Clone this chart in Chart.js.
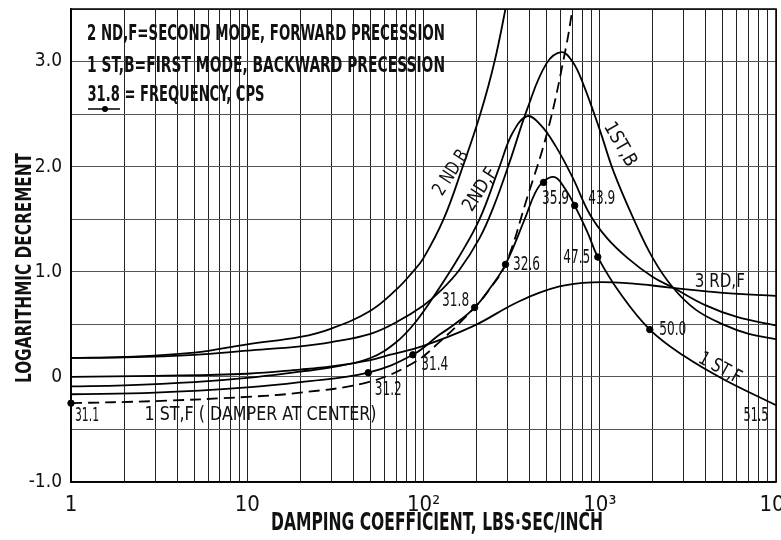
<!DOCTYPE html>
<html>
<head>
<meta charset="utf-8">
<script src="https://cdn.jsdelivr.net/npm/chart.js@4.4.1/dist/chart.umd.min.js"></script>
<style>
  html, body { margin: 0; background: #fff; }
  #wrap { width: 781px; height: 540px; }
</style>
</head>
<body>
<div id="wrap"><canvas id="chart"></canvas></div>
<script>
// damping coefficient (lbs-sec/inch) vs logarithmic decrement
const x2ndB = [1, 2, 5, 10, 20, 30, 50, 70, 87, 100, 130, 167, 210, 253, 300];
const y2ndB = [0.18, 0.19, 0.23, 0.31, 0.38, 0.46, 0.63, 0.83, 1.0, 1.13, 1.5, 2.0, 2.5, 3.0, 3.6];

const x1stB = [1, 2, 5, 10, 20, 30, 50, 70, 100, 125, 160, 208, 250, 309, 388, 498, 608, 700, 800, 1000, 1200, 1540, 2000, 2600, 3500, 5000, 7000, 10000];
const y1stB = [0.18, 0.185, 0.21, 0.25, 0.29, 0.33, 0.41, 0.52, 0.68, 0.82, 1.02, 1.32, 1.62, 2.05, 2.55, 2.98, 3.09, 3.0, 2.8, 2.35, 1.95, 1.52, 1.13, 0.85, 0.64, 0.50, 0.41, 0.36];

const x2ndF = [1, 2, 5, 10, 20, 30, 50, 70, 90, 118, 160, 208, 270, 320, 388, 460, 560, 700, 876, 1100, 1440, 2000, 2600, 4000, 6000, 10000];
const y2ndF = [-0.09, -0.08, -0.05, -0.01, 0.05, 0.09, 0.18, 0.33, 0.52, 0.80, 1.15, 1.50, 2.0, 2.32, 2.48, 2.40, 2.2, 1.90, 1.55, 1.32, 1.13, 0.95, 0.85, 0.68, 0.57, 0.49];

const x3rdF = [1, 3, 10, 20, 30, 50, 64, 98, 190, 350, 590, 915, 1500, 2500, 5000, 10000];
const y3rdF = [0.0, 0.01, 0.03, 0.07, 0.10, 0.16, 0.21, 0.29, 0.48, 0.72, 0.86, 0.90, 0.89, 0.85, 0.80, 0.77];

const x1stF = [1, 3, 10, 20, 48.6, 87, 123, 150, 195, 240, 292, 375, 430, 480, 555, 630, 721, 850, 975, 1300, 1923, 3000, 5000, 10000];
const y1stF = [-0.165, -0.15, -0.10, -0.05, 0.04, 0.21, 0.40, 0.50, 0.66, 0.85, 1.07, 1.50, 1.75, 1.86, 1.90, 1.80, 1.63, 1.38, 1.14, 0.80, 0.45, 0.20, -0.02, -0.27];

const xDamperCenter = [1, 3, 10, 20, 48.6, 87, 123, 195, 236, 292, 385, 508, 639, 710];
const yDamperCenter = [-0.25, -0.23, -0.19, -0.15, -0.05, 0.13, 0.33, 0.66, 0.83, 1.07, 1.69, 2.35, 3.11, 3.56];

// frequency (cps) marks
const freqLabels = ['31.1', '31.2', '31.4', '31.8', '32.6', '35.9', '43.9', '47.5', '50.0'];
const freqX = [1, 48.6, 87, 195, 292, 480, 721, 975, 1923];
const freqY = [-0.25, 0.04, 0.21, 0.66, 1.07, 1.85, 1.63, 1.14, 0.45];

// curve names placed beside the curves
const curveNames = ['2 ND,B', '2ND,F', '1ST,B', '3 RD,F', '1 ST,F', '1 ST,F ( DAMPER AT CENTER)', '51.5'];
const curveNameX = [144, 211, 1300, 4800, 4800, 11.9, 7700];
const curveNameY = [1.94, 1.78, 2.21, 0.90, 0.08, -0.36, -0.37];

const xTickLabels = ['1', '10', '10\u00B2', '10\u00B3', '10\u2074'];
const decades = [1, 10, 100, 1000, 10000];

const legendLines = [
    '2 ND,F=SECOND MODE, FORWARD PRECESSION',
    '1 ST,B=FIRST MODE, BACKWARD PRECESSION',
    '31.8 = FREQUENCY, CPS'
];

const FONT = '"DejaVu Sans Condensed", "DejaVu Sans", sans-serif';
const TICK_FONT = '"Liberation Sans Narrow", "DejaVu Sans Condensed", sans-serif';

function pts(xs, ys) {
    return xs.map((x, i) => ({ x: x, y: ys[i] }));
}

// draws text squeezed to a given width, like the narrow lettering of the drawing
function fitText(ctx, txt, cx, cy, w, size, bold, rot) {
    ctx.save();
    ctx.font = (bold ? 'bold ' : '') + size + 'px ' + FONT;
    const m = ctx.measureText(txt).width;
    ctx.translate(cx, cy);
    ctx.rotate((rot || 0) * Math.PI / 180);
    ctx.scale(w / m, 1);
    ctx.textAlign = 'center';
    ctx.textBaseline = 'middle';
    ctx.fillStyle = '#111';
    ctx.fillText(txt, 0, 0);
    ctx.restore();
}

const labelStyle = [
    { rot: -57, w: 50 },
    { rot: -57, w: 48 },
    { rot: 60, w: 48 },
    { rot: 0, w: 50 },
    { rot: 29, w: 46 },
    { rot: 0, w: 232 },
    { rot: 0, w: 25 }
];
const freqOffset = [[16, 13], [20, 17], [22, 10], [-19, -6], [21, 1], [12, 17], [27, -6], [-21, 1], [23, 0]];

const textPlugin = {
    id: 'drawingText',
    afterDraw(chart) {
        const ctx = chart.ctx;
        const xs = chart.scales.x, ys = chart.scales.y;
        const a = chart.chartArea;

        ctx.save();
        ctx.strokeStyle = '#000';
        ctx.lineWidth = 1.5;
        ctx.strokeRect(a.left, a.top, a.right - a.left, a.bottom - a.top);
        ctx.restore();

        // legend block
        fitText(ctx, legendLines[0], 266, 34, 358, 22, true);
        fitText(ctx, legendLines[1], 266, 66, 358, 22, true);
        fitText(ctx, legendLines[2], 176, 95, 177, 22, true);
        ctx.save();
        ctx.strokeStyle = '#000';
        ctx.lineWidth = 1.5;
        ctx.beginPath();
        ctx.moveTo(88, 109);
        ctx.lineTo(120, 109);
        ctx.stroke();
        ctx.beginPath();
        ctx.arc(105, 109, 3, 0, Math.PI * 2);
        ctx.fillStyle = '#000';
        ctx.fill();
        ctx.restore();

        // curve names
        curveNames.forEach((t, i) => {
            const st = labelStyle[i];
            fitText(ctx, t, xs.getPixelForValue(curveNameX[i]), ys.getPixelForValue(curveNameY[i]), st.w, 19, false, st.rot);
        });

        // frequency marks
        freqLabels.forEach((t, i) => {
            const px = xs.getPixelForValue(freqX[i]) + freqOffset[i][0];
            const py = ys.getPixelForValue(freqY[i]) + freqOffset[i][1];
            fitText(ctx, t, px, py, t === '31.1' ? 24 : 27, 19, false, 0);
        });

        // axis titles
        fitText(ctx, 'DAMPING COEFFICIENT, LBS\u00B7SEC/INCH', 437, 524, 332, 24, true);
        fitText(ctx, 'LOGARITHMIC DECREMENT', 25, 268, 230, 22, true, -90);
    }
};

const lineStyle = {
    borderColor: '#000',
    borderWidth: 1.8,
    pointRadius: 0,
    fill: false,
    tension: 0.4
};

new Chart(document.getElementById('chart'), {
    type: 'line',
    data: {
        datasets: [
            Object.assign({ label: '2ND,B', data: pts(x2ndB, y2ndB) }, lineStyle),
            Object.assign({ label: '1ST,B', data: pts(x1stB, y1stB) }, lineStyle),
            Object.assign({ label: '2ND,F', data: pts(x2ndF, y2ndF) }, lineStyle),
            Object.assign({ label: '3RD,F', data: pts(x3rdF, y3rdF) }, lineStyle),
            Object.assign({ label: '1ST,F', data: pts(x1stF, y1stF) }, lineStyle),
            Object.assign({ label: '1ST,F damper at center', data: pts(xDamperCenter, yDamperCenter) }, lineStyle, { borderDash: [11, 6] }),
            {
                label: 'frequency',
                data: pts(freqX, freqY),
                showLine: false,
                pointRadius: 3.2,
                pointBackgroundColor: '#000',
                pointBorderColor: '#000',
                clip: false
            }
        ]
    },
    options: {
        responsive: true,
        maintainAspectRatio: false,
        animation: false,
        layout: { padding: { left: 0, right: 5, top: 9, bottom: 0 } },
        plugins: {
            legend: { display: false },
            tooltip: { enabled: false }
        },
        scales: {
            x: {
                type: 'logarithmic',
                min: 1,
                max: 10000,
                afterBuildTicks: (s) => {
                    const t = [];
                    decades.slice(0, -1).forEach(d => {
                        for (let m = 1; m < 10; m++) t.push({ value: d * m });
                    });
                    t.push({ value: 10000 });
                    s.ticks = t;
                },
                afterFit: (s) => {
                    s.height = 58;
                    s.paddingLeft = 0;
                    s.paddingRight = 0;
                },
                ticks: {
                    autoSkip: false,
                    maxRotation: 0,
                    minRotation: 0,
                    padding: 10,
                    color: '#111',
                    font: { family: TICK_FONT, size: 22 },
                    callback: (v) => {
                        const i = decades.indexOf(v);
                        return i >= 0 ? xTickLabels[i] : '';
                    }
                },
                grid: { color: '#222', lineWidth: 1, drawTicks: false },
                border: { color: '#000', width: 1.5 }
            },
            y: {
                min: -1,
                max: 3.5,
                afterFit: (s) => {
                    s.width = 71;
                    s.paddingTop = 0;
                    s.paddingBottom = 0;
                },
                ticks: {
                    stepSize: 0.5,
                    padding: 9,
                    color: '#111',
                    font: { family: TICK_FONT, size: 19 },
                    callback: (v) => {
                        if (Math.abs(v - Math.round(v)) > 1e-6) return '';
                        return v === 0 ? '0' : v.toFixed(1);
                    }
                },
                grid: { color: '#555', lineWidth: 1, drawTicks: false },
                border: { color: '#000', width: 1.5 }
            }
        }
    },
    plugins: [textPlugin]
});
</script>
</body>
</html>
